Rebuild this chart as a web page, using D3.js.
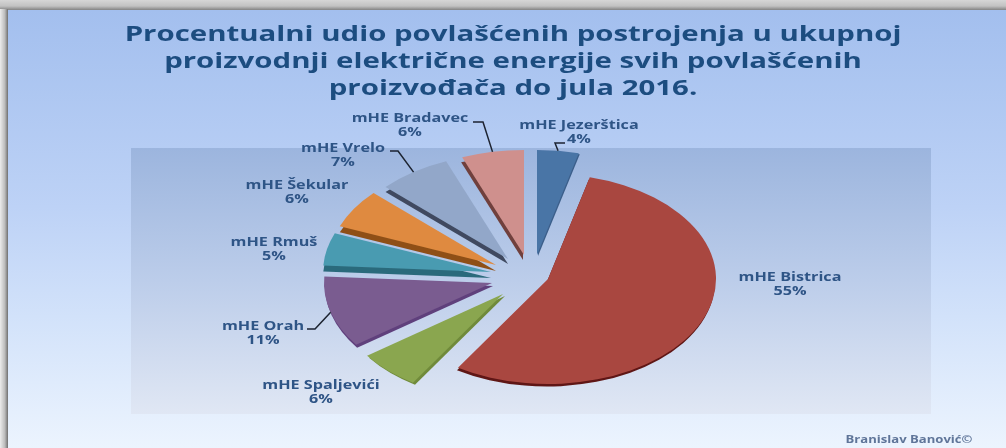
<!DOCTYPE html>
<html>
<head>
<meta charset="utf-8">
<style>
html, body { margin: 0; padding: 0; background: #fff; overflow: hidden; }
svg { display: block; }
text { font-family: "Open Sans", sans-serif; font-weight: 700; }
</style>
<script src="https://cdn.jsdelivr.net/npm/d3@7"></script>
</head>
<body>
<svg id="chart" width="1006" height="448"></svg>
<script>
var titleLines = [
  "Procentualni udio povlašćenih postrojenja u ukupnoj",
  "proizvodnji električne energije svih povlašćenih",
  "proizvođača do jula 2016."
];
var categories = ["mHE Jezerštica", "mHE Bistrica", "mHE Spaljevići", "mHE Orah", "mHE Rmuš", "mHE Šekular", "mHE Vrelo", "mHE Bradavec"];
var shares = [4, 55, 6, 11, 5, 6, 7, 6];
var credit = "Branislav Banović©";

var topColors = ["#4a74a6", "#a94640", "#8aa64f", "#7a5b90", "#4a9bb1", "#df8a40", "#92a7c9", "#cf908d"];
var sideColors = ["#3b5f8a", "#5e1614", "#6f8a3a", "#5f3f7c", "#2c6a7c", "#8f5018", "#3f4a60", "#6f3f3c"];
// how far each slice is pulled out of the pie centre
var explode = [[8, -21], [19, 3], [-26, 18], [-37, 7], [-38, -4], [-33, -11], [-21, -17], [-5, -21]];
var wallDepth = [[1, 1], [-1, 2.5], [2, 2], [1, 3], [0, 6], [0, 6], [0, 5], [-1, 5]];
var labelPos = [[579, 124], [790, 276], [321, 384], [263, 325], [274, 241], [297, 184], [343, 147], [410, 117]];
// first two points of a leader line, the last one is on the slice (null = no leader)
var leaderElbow = [[[565, 143], [555, 143]], null, null, [[307, 329], [315, 329]], null, null, [[390, 151], [398, 151]], [[473, 122], [483, 122]]];

var width = 1006, height = 448,
  centerX = 529, centerY = 276,
  radiusY = 105, aspect = 1.6,
  textStretch = 1.35,
  svg = d3.select("#chart"),
  defs = svg.append("defs");

function addGradient(id, horizontal, stops) {
  var g = defs.append("linearGradient")
    .attr("id", id)
    .attr("x1", 0).attr("y1", 0)
    .attr("x2", horizontal ? 1 : 0).attr("y2", horizontal ? 0 : 1);
  stops.forEach(function(s) {
    g.append("stop").attr("offset", s[0]).attr("stop-color", s[1]);
  });
}

addGradient("panelFill", false, [[0, "#a3bfee"], [0.45, "#bdd2f6"], [0.7, "#d2e2fa"], [1, "#ecf4fe"]]);
addGradient("plotFill", false, [[0, "#9cb5de"], [0.5, "#bccdea"], [1, "#e0e7f4"]]);
addGradient("shadowTop", false, [[0, "#d6d6d6"], [0.6, "#c2c2c2"], [1, "#838383"]]);
addGradient("shadowLeft", true, [[0, "#ececec"], [0.6, "#bcbcbc"], [1, "#6f6f6f"]]);

defs.append("filter").attr("id", "soft")
  .append("feGaussianBlur").attr("stdDeviation", 0.45);

svg.append("rect").attr("width", width).attr("height", 10).attr("fill", "url(#shadowTop)");
svg.append("rect").attr("y", 9).attr("width", 8).attr("height", height - 9).attr("fill", "url(#shadowLeft)");
svg.append("rect").attr("x", 8).attr("y", 10).attr("width", width - 8).attr("height", height - 10).attr("fill", "url(#panelFill)");
svg.append("rect").attr("x", 131).attr("y", 148).attr("width", 800).attr("height", 266).attr("fill", "url(#plotFill)");

var soft = svg.append("g").attr("filter", "url(#soft)");

soft.append("g").selectAll("text")
  .data(titleLines)
  .enter()
  .append("text")
    .attr("transform", function(d, i) { return "translate(513," + (41 + i * 27) + ") scale(" + textStretch + ",1)"; })
    .attr("text-anchor", "middle")
    .attr("font-size", 21.8)
    .attr("fill", "#1f4d80")
    .text(function(d) { return d; });

var pie = d3.pie().sort(null).value(function(d) { return d; }),
  arc = d3.arc().innerRadius(0).outerRadius(radiusY),
  slices = pie(shares);

function midAngle(d) {
  return (d.startAngle + d.endAngle) / 2;
}

// apex of an exploded slice on screen
function apex(i) {
  return [centerX + explode[i][0], centerY + explode[i][1]];
}

var sliceGroups = soft.append("g").selectAll("g")
  .data(slices)
  .enter()
  .append("g");

sliceGroups.append("path")
  .attr("d", arc)
  .attr("fill", function(d, i) { return sideColors[i]; })
  .attr("transform", function(d, i) {
    var p = apex(i);
    return "translate(" + (p[0] + wallDepth[i][0]) + "," + (p[1] + wallDepth[i][1]) + ") scale(" + aspect + ",1)";
  });

sliceGroups.append("path")
  .attr("d", arc)
  .attr("fill", function(d, i) { return topColors[i]; })
  .attr("transform", function(d, i) {
    var p = apex(i);
    return "translate(" + p[0] + "," + p[1] + ") scale(" + aspect + ",1)";
  });

// leader lines end on the middle of the slice's outer edge
soft.append("g").selectAll("path")
  .data(slices.filter(function(d) { return leaderElbow[d.index]; }))
  .enter()
  .append("path")
    .attr("fill", "none")
    .attr("stroke", "#1c2430")
    .attr("stroke-width", 1.5)
    .attr("d", function(d) {
      var i = d.index,
        p = apex(i),
        a = midAngle(d),
        end = [p[0] + radiusY * aspect * Math.sin(a), p[1] - radiusY * Math.cos(a)];
      return d3.line()(leaderElbow[i].concat([end]));
    });

var labels = soft.append("g").selectAll("g")
  .data(categories)
  .enter()
  .append("g")
    .attr("transform", function(d, i) { return "translate(" + labelPos[i][0] + "," + labelPos[i][1] + ") scale(" + textStretch + ",1)"; })
    .attr("text-anchor", "middle")
    .attr("font-size", 12)
    .attr("fill", "#2f5486");

labels.append("text")
  .attr("y", 4.5)
  .text(function(d) { return d; });

labels.append("text")
  .attr("y", 19.5)
  .text(function(d, i) { return shares[i] + "%"; });

soft.append("text")
  .attr("transform", "translate(909,443) scale(" + textStretch + ",1)")
  .attr("text-anchor", "middle")
  .attr("font-size", 9.7)
  .attr("fill", "#5f7599")
  .text(credit);
</script>
</body>
</html>
